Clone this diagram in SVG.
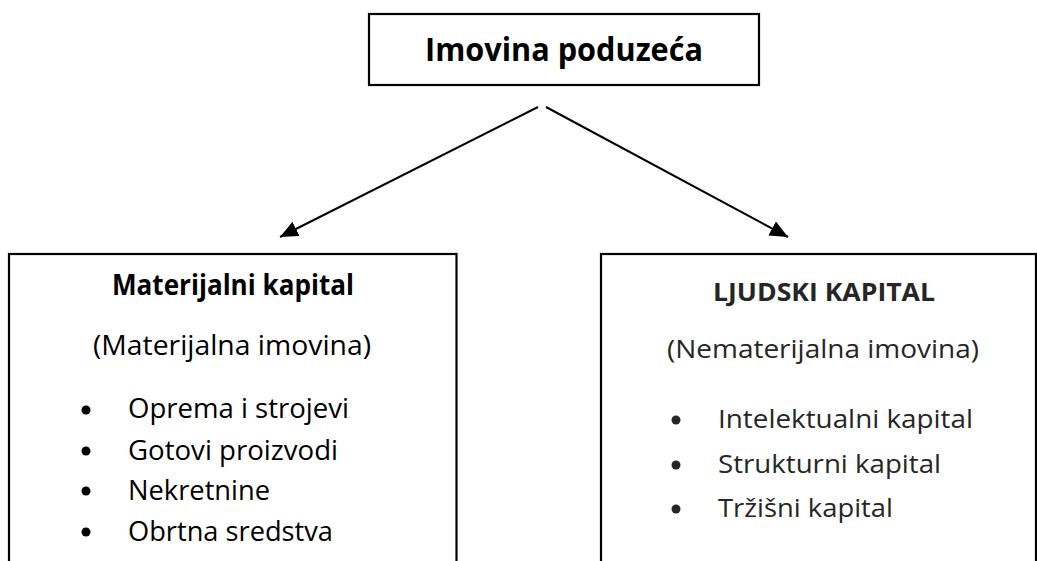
<svg xmlns="http://www.w3.org/2000/svg" width="1037" height="561" viewBox="0 0 1037 561">
<style>
.box{fill:#fff;stroke:#000;stroke-width:2.2}
.t{font-family:"Open Sans","Liberation Sans",sans-serif;fill:#000}
.b{font-weight:bold}
.r{fill:#262626}
.con{stroke:#000;stroke-width:2;fill:none}
</style>
<defs>
<marker id="ah" markerUnits="userSpaceOnUse" markerWidth="20" markerHeight="16" refX="18" refY="8" orient="auto">
<path d="M0,0 L18,8 L0,16 Z" fill="#000"/>
</marker>
</defs>
<rect width="1037" height="561" fill="#fff"/>
<g id="connectors">
<line class="con" x1="538" y1="107" x2="280" y2="237" marker-end="url(#ah)"/>
<line class="con" x1="546" y1="107" x2="788" y2="237" marker-end="url(#ah)"/>
</g>
<g id="node-imovina">
<rect class="box" x="369" y="14" width="390" height="71"/>
<text class="t b" x="425" y="61" font-size="33" textLength="278" lengthAdjust="spacingAndGlyphs">Imovina poduzeća</text>
</g>
<g id="node-materijalni">
<rect class="box" x="9" y="254" width="447.5" height="330"/>
<text class="t b" x="112" y="295" font-size="28" textLength="242" lengthAdjust="spacingAndGlyphs">Materijalni kapital</text>
<text class="t" x="93" y="355" font-size="27" textLength="278" lengthAdjust="spacingAndGlyphs">(Materijalna imovina)</text>
<circle cx="86" cy="410" r="4.5"/>
<text class="t" x="128" y="418" font-size="27" textLength="221" lengthAdjust="spacingAndGlyphs">Oprema i strojevi</text>
<circle cx="86" cy="451" r="4.5"/>
<text class="t" x="128" y="460" font-size="27" textLength="210" lengthAdjust="spacingAndGlyphs">Gotovi proizvodi</text>
<circle cx="86" cy="491" r="4.5"/>
<text class="t" x="128" y="500" font-size="27" textLength="142" lengthAdjust="spacingAndGlyphs">Nekretnine</text>
<circle cx="86" cy="532" r="4.5"/>
<text class="t" x="128" y="541" font-size="27" textLength="205" lengthAdjust="spacingAndGlyphs">Obrtna sredstva</text>
</g>
<g id="node-ljudski">
<rect class="box" x="601" y="254" width="435" height="330"/>
<text class="t b r" x="713" y="301" font-size="25" textLength="222" lengthAdjust="spacingAndGlyphs">LJUDSKI KAPITAL</text>
<text class="t r" x="667" y="358" font-size="26" textLength="312" lengthAdjust="spacingAndGlyphs">(Nematerijalna imovina)</text>
<circle cx="676" cy="420" r="4.5" fill="#262626"/>
<text class="t r" x="718" y="428" font-size="26" textLength="255" lengthAdjust="spacingAndGlyphs">Intelektualni kapital</text>
<circle cx="676" cy="465" r="4.5" fill="#262626"/>
<text class="t r" x="718" y="473" font-size="26" textLength="223" lengthAdjust="spacingAndGlyphs">Strukturni kapital</text>
<circle cx="676" cy="509" r="4.5" fill="#262626"/>
<text class="t r" x="718" y="517" font-size="26" textLength="175" lengthAdjust="spacingAndGlyphs">Tržišni kapital</text>
</g>
</svg>
